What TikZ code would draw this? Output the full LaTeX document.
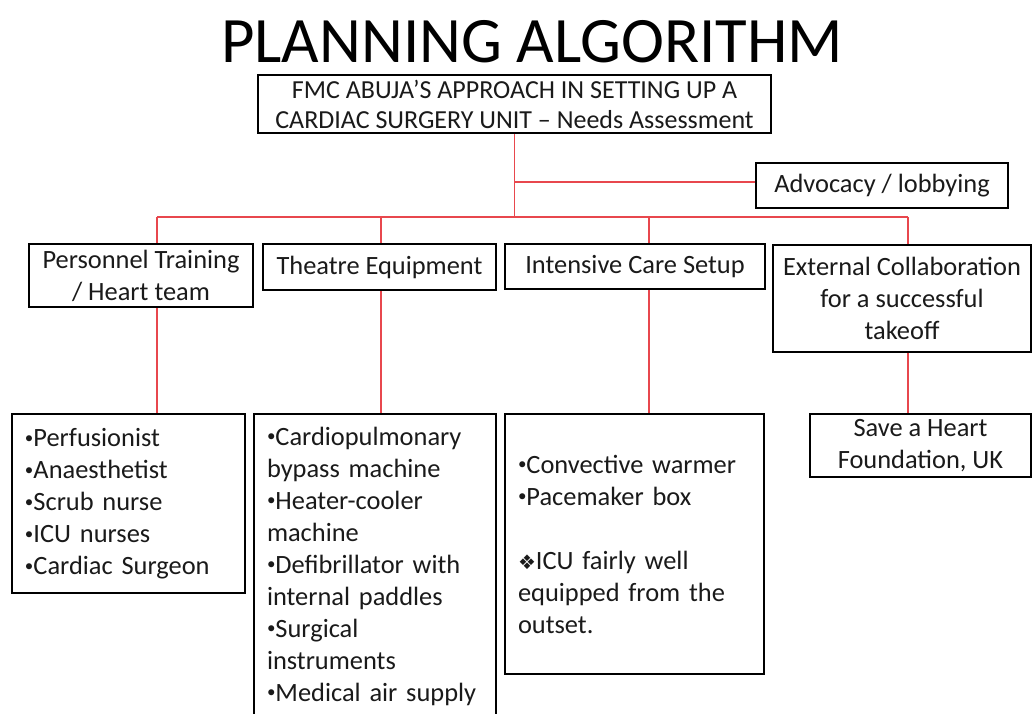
\documentclass[tikz,border=0pt]{standalone}
\usepackage{fontspec}
\setmainfont{Carlito}
\newfontfamily\symfont{DejaVu Sans}
\usepackage{xcolor}
\usepackage{tikz}
\usetikzlibrary{calc}
\definecolor{ink}{HTML}{1A1A1A}
\definecolor{wire}{HTML}{E8474D}
\newcommand\bul{\raisebox{1.6pt}{\fontsize{8.5}{10}\selectfont•}}
\tikzset{
  box/.style={draw=black, line width=1.1pt, fill=white, text=ink, align=center,
    inner sep=0pt, font=\fontsize{13.2}{16}\selectfont},
  listbox/.style={box, align=left, inner xsep=6.5pt},
  link/.style={draw=wire, line width=0.6pt},
  headline/.style={text=black, font=\fontsize{32.4}{38}\selectfont},
}

\begin{document}
\begin{tikzpicture}[x=0.5pt,y=-0.5pt]
  \clip (0,0) rectangle (1033,713);
  \fill[white] (0,0) rectangle (1033,713);

  \node[headline] (title) at (532,41.5) {PLANNING ALGORITHM};

  % root and side box
  \node[box, minimum width=256.5pt, minimum height=29pt, font=\fontsize{13}{15}\selectfont]
    (root) at (514.5,104) {FMC ABUJA’S APPROACH IN SETTING UP A\\CARDIAC SURGERY UNIT – Needs Assessment};
  \node[box, minimum width=126pt, minimum height=22.5pt] (adv) at (882,185.5) {Advocacy / lobbying};

  % second row
  \node[box, minimum width=112pt, minimum height=31.5pt] (pers) at (141,275.5) {Personnel Training\\/ Heart team};
  \node[box, minimum width=116.5pt, minimum height=23pt] (theat) at (379.5,267) {Theatre Equipment};
  \node[box, minimum width=130pt, minimum height=22.5pt] (icu) at (635,266.5) {Intensive Care Setup};
  \node[box, minimum width=129pt, minimum height=53.5pt] (ext) at (902,298.5) {External Collaboration\\for a successful\\takeoff};

  % third row
  \node[listbox, text width=103.5pt, minimum height=89.5pt] (perslist) at (128.5,503.5)
    {\bul Perfusionist\\\bul Anaesthetist\\\bul Scrub nurse\\\bul ICU nurses\\\bul Cardiac Surgeon};
  \node[listbox, text width=108pt, minimum height=152pt] (theatlist) at (375,566)
    {\bul Cardiopulmonary\\bypass machine\\\bul Heater-cooler\\machine\\\bul Defibrillator with\\internal paddles\\\bul Surgical\\instruments\\\bul Medical air supply};
  \node[listbox, text width=116.5pt, minimum height=130pt] (iculist) at (634.5,544)
    {\bul Convective warmer\\\bul Pacemaker box\\[16pt]{\symfont\fontsize{10}{16}\selectfont ❖}ICU fairly well\\equipped from the\\outset.};
  \node[box, minimum width=110.5pt, minimum height=31.5pt] (save) at (920.5,445.5) {Save a Heart\\Foundation, UK};

  % bus coordinates
  \coordinate (b1) at (157,217);
  \coordinate (b2) at (381,217);
  \coordinate (b3) at (649,217);
  \coordinate (b4) at (908,217);
  \coordinate (advin) at ($(adv.west)+(0,-3.5)$);

  \draw[link] (root.south) -- (root.south |- b1);
  \draw[link] (root.south |- advin) -- (advin);
  \draw[link] (b1) -- (b4);
  \draw[link] (b1) -- (b1 |- pers.north);
  \draw[link] (b2) -- (b2 |- theat.north);
  \draw[link] (b3) -- (b3 |- icu.north);
  \draw[link] (b4) -- (b4 |- ext.north);
  \draw[link] (b1 |- pers.south) -- (b1 |- perslist.north);
  \draw[link] (b2 |- theat.south) -- (b2 |- theatlist.north);
  \draw[link] (b3 |- icu.south) -- (b3 |- iculist.north);
  \draw[link] (b4 |- ext.south) -- (b4 |- save.north);
\end{tikzpicture}
\end{document}
